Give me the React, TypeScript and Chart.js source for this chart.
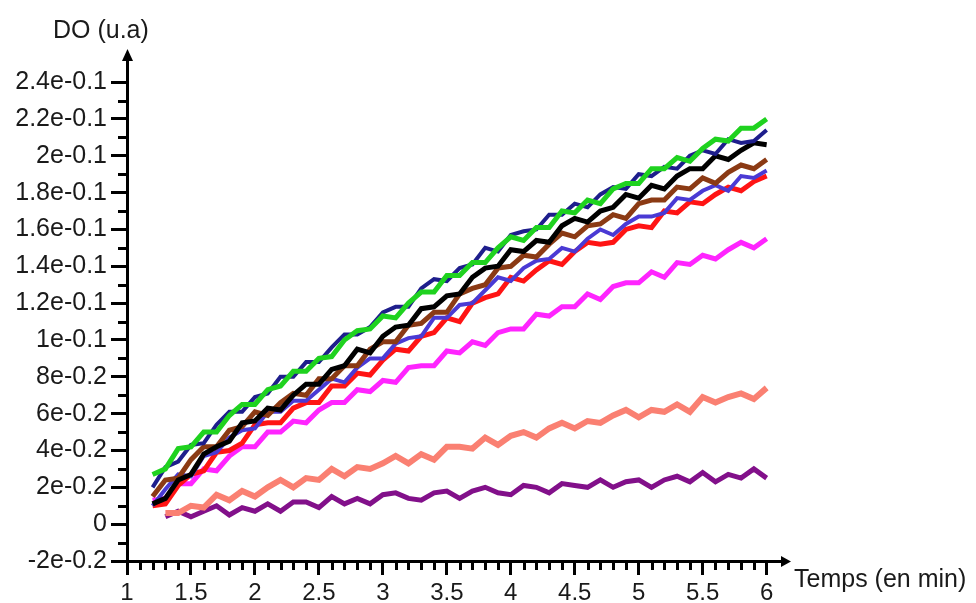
import React, { useEffect, useRef } from 'react';
import { Chart, registerables } from 'chart.js';

Chart.register(...registerables);

// Time axis (min)
const times = [
  1.2, 1.3, 1.4, 1.5, 1.6, 1.7, 1.8, 1.9, 2.0, 2.1,
  2.2, 2.3, 2.4, 2.5, 2.6, 2.7, 2.8, 2.9, 3.0, 3.1,
  3.2, 3.3, 3.4, 3.5, 3.6, 3.7, 3.8, 3.9, 4.0, 4.1,
  4.2, 4.3, 4.4, 4.5, 4.6, 4.7, 4.8, 4.9, 5.0, 5.1,
  5.2, 5.3, 5.4, 5.5, 5.6, 5.7, 5.8, 5.9, 6.0,
];
const timesLate = [
  1.3, 1.4, 1.5, 1.6, 1.7, 1.8, 1.9, 2.0, 2.1,
  2.2, 2.3, 2.4, 2.5, 2.6, 2.7, 2.8, 2.9, 3.0, 3.1,
  3.2, 3.3, 3.4, 3.5, 3.6, 3.7, 3.8, 3.9, 4.0, 4.1,
  4.2, 4.3, 4.4, 4.5, 4.6, 4.7, 4.8, 4.9, 5.0, 5.1,
  5.2, 5.3, 5.4, 5.5, 5.6, 5.7, 5.8, 5.9, 6.0,
];

// Optical density series (u.a)
const greenSeries = [
  0.027, 0.030, 0.041, 0.042, 0.050, 0.050, 0.059, 0.065, 0.065, 0.073,
  0.075, 0.083, 0.083, 0.090, 0.091, 0.100, 0.105, 0.106, 0.113, 0.112,
  0.120, 0.126, 0.126, 0.135, 0.135, 0.142, 0.142, 0.150, 0.156, 0.154,
  0.161, 0.161, 0.170, 0.169, 0.176, 0.174, 0.182, 0.185, 0.185, 0.193,
  0.193, 0.199, 0.197, 0.204, 0.209, 0.208, 0.215, 0.215, 0.220,
];
const navySeries = [
  0.020, 0.031, 0.034, 0.043, 0.044, 0.054, 0.061, 0.061, 0.069, 0.071,
  0.080, 0.080, 0.088, 0.088, 0.096, 0.103, 0.103, 0.107, 0.115, 0.118,
  0.118, 0.128, 0.133, 0.132, 0.139, 0.141, 0.150, 0.148, 0.157, 0.159,
  0.160, 0.168, 0.168, 0.174, 0.172, 0.179, 0.183, 0.182, 0.190, 0.189,
  0.194, 0.193, 0.200, 0.203, 0.201, 0.209, 0.207, 0.208, 0.214,
];
const blackSeries = [
  0.011, 0.014, 0.024, 0.027, 0.038, 0.042, 0.045, 0.055, 0.056, 0.063,
  0.062, 0.070, 0.076, 0.076, 0.084, 0.086, 0.095, 0.093, 0.102, 0.107,
  0.108, 0.117, 0.118, 0.124, 0.125, 0.134, 0.139, 0.140, 0.149, 0.148,
  0.154, 0.153, 0.162, 0.166, 0.164, 0.170, 0.172, 0.179, 0.177, 0.184,
  0.182, 0.189, 0.193, 0.193, 0.200, 0.198, 0.203, 0.207, 0.206,
];
const brownSeries = [
  0.015, 0.024, 0.025, 0.035, 0.042, 0.042, 0.051, 0.053, 0.061, 0.059,
  0.066, 0.071, 0.070, 0.079, 0.079, 0.086, 0.086, 0.095, 0.099, 0.099,
  0.108, 0.109, 0.115, 0.115, 0.125, 0.128, 0.130, 0.139, 0.140, 0.146,
  0.145, 0.152, 0.158, 0.156, 0.162, 0.163, 0.168, 0.166, 0.174, 0.176,
  0.176, 0.183, 0.182, 0.188, 0.185, 0.191, 0.195, 0.193, 0.198,
];
const blueSeries = [
  0.010, 0.019, 0.027, 0.026, 0.037, 0.039, 0.047, 0.051, 0.052, 0.061,
  0.061, 0.067, 0.067, 0.073, 0.079, 0.077, 0.085, 0.090, 0.090, 0.098,
  0.101, 0.102, 0.112, 0.112, 0.119, 0.120, 0.127, 0.134, 0.132, 0.139,
  0.143, 0.144, 0.150, 0.148, 0.155, 0.160, 0.157, 0.163, 0.167, 0.167,
  0.169, 0.177, 0.176, 0.181, 0.184, 0.181, 0.189, 0.188, 0.192,
];
const redSeries = [
  0.010, 0.011, 0.021, 0.027, 0.029, 0.039, 0.040, 0.044, 0.054, 0.055,
  0.055, 0.063, 0.066, 0.066, 0.075, 0.075, 0.082, 0.081, 0.089, 0.095,
  0.094, 0.102, 0.104, 0.112, 0.110, 0.120, 0.123, 0.125, 0.134, 0.132,
  0.138, 0.143, 0.141, 0.148, 0.153, 0.152, 0.153, 0.160, 0.162, 0.161,
  0.170, 0.169, 0.175, 0.174, 0.179, 0.183, 0.181, 0.186, 0.189,
];
const magentaSeries = [
  0.013, 0.014, 0.022, 0.022, 0.030, 0.029, 0.037, 0.042, 0.042, 0.050,
  0.050, 0.056, 0.055, 0.062, 0.066, 0.066, 0.073, 0.072, 0.078, 0.077,
  0.085, 0.086, 0.086, 0.094, 0.093, 0.099, 0.097, 0.104, 0.106, 0.106,
  0.114, 0.113, 0.118, 0.118, 0.125, 0.122, 0.129, 0.131, 0.131, 0.137,
  0.134, 0.142, 0.141, 0.146, 0.144, 0.149, 0.153, 0.150, 0.155,
];
const salmonSeries = [
  0.006, 0.006, 0.010, 0.009, 0.016, 0.013, 0.018, 0.015, 0.020,
  0.024, 0.020, 0.025, 0.024, 0.030, 0.026, 0.031, 0.030, 0.033, 0.037,
  0.033, 0.038, 0.035, 0.042, 0.042, 0.041, 0.047, 0.043, 0.048, 0.050,
  0.047, 0.052, 0.055, 0.052, 0.056, 0.055, 0.059, 0.062, 0.058, 0.062,
  0.061, 0.065, 0.061, 0.069, 0.066, 0.069, 0.071, 0.068, 0.074,
];
const purpleSeries = [
  0.004, 0.007, 0.004, 0.007, 0.010, 0.005, 0.009, 0.007, 0.011,
  0.007, 0.012, 0.012, 0.009, 0.015, 0.011, 0.014, 0.011, 0.016, 0.017,
  0.014, 0.013, 0.017, 0.018, 0.014, 0.018, 0.020, 0.017, 0.016, 0.021,
  0.020, 0.017, 0.022, 0.021, 0.020, 0.024, 0.020, 0.023, 0.024, 0.020,
  0.024, 0.026, 0.023, 0.028, 0.023, 0.027, 0.025, 0.030, 0.025,
];

// Axis ticks
const yTickValues = [-0.02, 0, 0.02, 0.04, 0.06, 0.08, 0.1, 0.12, 0.14, 0.16, 0.18, 0.2, 0.22, 0.24];
const yTickLabels = ['-2e-0.2', '0', '2e-0.2', '4e-0.2', '6e-0.2', '8e-0.2', '1e-0.1', '1.2e-0.1', '1.4e-0.1', '1.6e-0.1', '1.8e-0.1', '2e-0.1', '2.2e-0.1', '2.4e-0.1'];
const yMinorTicks = [-0.01, 0.01, 0.03, 0.05, 0.07, 0.09, 0.11, 0.13, 0.15, 0.17, 0.19, 0.21, 0.23];
const xTickValues = [1, 1.5, 2, 2.5, 3, 3.5, 4, 4.5, 5, 5.5, 6];
const xTickLabels = ['1', '1.5', '2', '2.5', '3', '3.5', '4', '4.5', '5', '5.5', '6'];
const xMinorTicks = [
  1.1, 1.2, 1.3, 1.4, 1.6, 1.7, 1.8, 1.9, 2.1, 2.2, 2.3, 2.4, 2.6, 2.7, 2.8, 2.9,
  3.1, 3.2, 3.3, 3.4, 3.6, 3.7, 3.8, 3.9, 4.1, 4.2, 4.3, 4.4, 4.6, 4.7, 4.8, 4.9,
  5.1, 5.2, 5.3, 5.4, 5.6, 5.7, 5.8, 5.9,
];
const yTitle = 'DO (u.a)';
const xTitle = 'Temps (en min)';

const FONT = 'Liberation Sans, Arial, Helvetica, sans-serif';

const axisDecor = {
  id: 'axisDecor',
  afterDraw(chart: any) {
    const ctx = chart.ctx;
    const xs = chart.scales.x;
    const ys = chart.scales.y;
    const area = chart.chartArea;
    ctx.save();
    ctx.strokeStyle = '#000';
    ctx.fillStyle = '#000';
    ctx.lineWidth = 3;
    ctx.beginPath();
    yMinorTicks.forEach((v) => {
      const p = Math.round(ys.getPixelForValue(v)) + 0.5;
      ctx.moveTo(area.left - 9, p);
      ctx.lineTo(area.left, p);
    });
    xMinorTicks.forEach((v) => {
      const p = Math.round(xs.getPixelForValue(v)) + 0.5;
      ctx.moveTo(p, area.bottom);
      ctx.lineTo(p, area.bottom + 9);
    });
    ctx.stroke();
    // arrows
    ctx.beginPath();
    ctx.moveTo(area.left + 0.5, area.top - 11);
    ctx.lineTo(area.left - 5, area.top + 1);
    ctx.lineTo(area.left + 6, area.top + 1);
    ctx.closePath();
    ctx.fill();
    ctx.beginPath();
    ctx.moveTo(area.right + 9, area.bottom + 0.5);
    ctx.lineTo(area.right - 1, area.bottom - 5);
    ctx.lineTo(area.right - 1, area.bottom + 6);
    ctx.closePath();
    ctx.fill();
    // titles
    ctx.fillStyle = '#1a1a1a';
    ctx.font = `25px ${FONT}`;
    ctx.textBaseline = 'middle';
    ctx.textAlign = 'left';
    ctx.fillText(yTitle, 53, 31);
    ctx.fillText(xTitle, 794, 580);
    ctx.restore();
  },
};

export default function App() {
  const ref = useRef<HTMLCanvasElement | null>(null);
  useEffect(() => {
    if (!ref.current) return;
    const mk = (label: string, xsArr: number[], ys: number[], color: string, w: number) => ({
      label,
      data: xsArr.map((t, i) => ({ x: t, y: ys[i] })),
      borderColor: color,
      backgroundColor: color,
      borderWidth: w,
      borderJoinStyle: 'miter',
      pointRadius: 0,
      tension: 0,
      fill: false,
    });
    const chart = new Chart(ref.current, {
      type: 'line',
      data: {
        datasets: [
          mk('green', times, greenSeries, '#1fd21f', 5),
          mk('navy', times, navySeries, '#1e1e8c', 4),
          mk('black', times, blackSeries, '#000000', 5),
          mk('brown', times, brownSeries, '#8b3a14', 5),
          mk('blue', times, blueSeries, '#4a3ad4', 4),
          mk('red', times, redSeries, '#ff1414', 5),
          mk('magenta', times, magentaSeries, '#ff24ff', 5),
          mk('salmon', timesLate, salmonSeries, '#fa8072', 6),
          mk('purple', timesLate, purpleSeries, '#82108a', 5),
        ],
      },
      options: {
        animation: false,
        responsive: false,
        devicePixelRatio: 1,
        layout: { padding: { left: 0, top: 60, right: 194, bottom: 0 } },
        plugins: { legend: { display: false }, tooltip: { enabled: false }, title: { display: false } },
        scales: {
          x: {
            type: 'linear',
            min: 1,
            max: 6.12,
            afterFit: (s: any) => { s.height = 42; },
            afterBuildTicks: (s: any) => { s.ticks = xTickValues.map((v) => ({ value: v })); },
            ticks: {
              autoSkip: false,
              maxRotation: 0,
              padding: 4,
              color: '#1a1a1a',
              font: { family: FONT, size: 24 },
              callback: (_v: any, i: number) => xTickLabels[i],
            },
            grid: { display: true, drawOnChartArea: false, drawTicks: true, tickLength: 14, tickWidth: 3, tickColor: '#000' },
            border: { display: true, color: '#000', width: 3 },
          },
          y: {
            type: 'linear',
            min: -0.02,
            max: 0.252,
            afterFit: (s: any) => { s.width = 127; },
            afterBuildTicks: (s: any) => { s.ticks = yTickValues.map((v) => ({ value: v })); },
            ticks: {
              autoSkip: false,
              padding: 4,
              color: '#1a1a1a',
              font: { family: FONT, size: 25 },
              callback: (_v: any, i: number) => yTickLabels[i],
            },
            grid: { display: true, drawOnChartArea: false, drawTicks: true, tickLength: 16, tickWidth: 3, tickColor: '#000' },
            border: { display: true, color: '#000', width: 3 },
          },
        },
      },
      plugins: [axisDecor],
    } as any);
    return () => chart.destroy();
  }, []);
  return (
    <div style={{ position: 'fixed', left: 0, top: 0, width: 976, height: 603, background: '#fff' }}>
      <canvas ref={ref} width={976} height={603} style={{ display: 'block', width: 976, height: 603 }} />
    </div>
  );
}
